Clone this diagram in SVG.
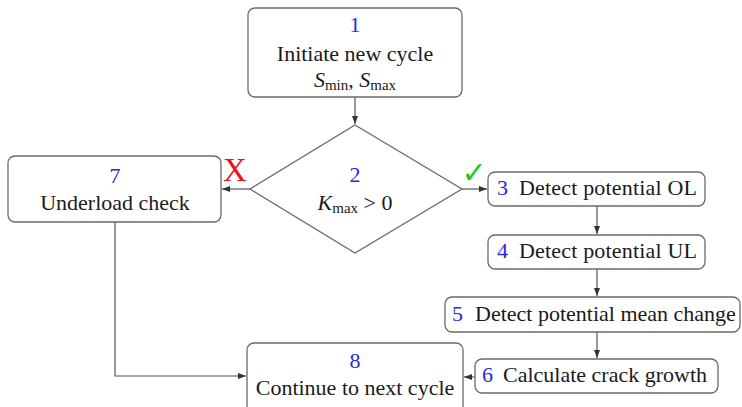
<svg xmlns="http://www.w3.org/2000/svg" width="742" height="407" viewBox="0 0 742 407">
<style>
.box{fill:#fff;stroke:#6a6a6a;stroke-width:1.3}
.t{font-family:"Liberation Serif","Times New Roman",serif;font-size:22px;fill:#1a1a1a}
.n{font-family:"Liberation Serif","Times New Roman",serif;font-size:22px;fill:#2828e0}
.sub{font-size:15px}
.c{fill:none;stroke:#555;stroke-width:1.2}
</style>
<defs>
<marker id="ah" viewBox="0 0 8 6" refX="8" refY="3" markerWidth="8" markerHeight="6" markerUnits="userSpaceOnUse" orient="auto">
<path d="M0,0 L8,3 L0,6 Z" fill="#333"/>
</marker>
</defs>
<rect width="742" height="407" fill="#fff"/>
<g id="connectors">
<path class="c" d="M355,97 V124" marker-end="url(#ah)"/>
<path class="c" d="M250,189 H222" marker-end="url(#ah)"/>
<path class="c" d="M462,189 H487" marker-end="url(#ah)"/>
<path class="c" d="M597,206 V234" marker-end="url(#ah)"/>
<path class="c" d="M597,269 V296" marker-end="url(#ah)"/>
<path class="c" d="M597,332 V358" marker-end="url(#ah)"/>
<path class="c" d="M475,377 H464" marker-end="url(#ah)"/>
<path class="c" d="M115,222 V376 H246" marker-end="url(#ah)"/>
</g>
<g id="node1">
<rect class="box" x="248" y="8" width="214" height="89" rx="7"/>
<text class="n" x="355" y="32" text-anchor="middle">1</text>
<text class="t" x="355" y="61" text-anchor="middle">Initiate new cycle</text>
<text class="t" x="355" y="87" text-anchor="middle"><tspan font-style="italic">S</tspan><tspan class="sub" dy="3">min</tspan><tspan dy="-3">, </tspan><tspan font-style="italic">S</tspan><tspan class="sub" dy="3">max</tspan></text>
</g>
<g id="node2">
<polygon class="box" points="355,125 462,189 355,253 250,189"/>
<text class="n" x="355" y="182" text-anchor="middle">2</text>
<text class="t" x="355" y="210" text-anchor="middle"><tspan font-style="italic">K</tspan><tspan class="sub" dy="3">max</tspan><tspan dy="-3"> &gt; 0</tspan></text>
</g>
<g id="node7">
<rect class="box" x="8" y="156" width="213" height="66" rx="7"/>
<text class="n" x="115" y="183" text-anchor="middle">7</text>
<text class="t" x="115" y="210" text-anchor="middle">Underload check</text>
</g>
<g id="node3">
<rect class="box" x="488" y="172" width="217" height="34" rx="7"/>
<text class="n" x="497" y="195">3</text>
<text class="t" x="519" y="195" textLength="178">Detect potential OL</text>
</g>
<g id="node4">
<rect class="box" x="488" y="235" width="217" height="34" rx="7"/>
<text class="n" x="497" y="258">4</text>
<text class="t" x="519" y="258" textLength="178">Detect potential UL</text>
</g>
<g id="node5">
<rect class="box" x="445" y="297" width="295" height="35" rx="7"/>
<text class="n" x="452" y="321">5</text>
<text class="t" x="475" y="321">Detect potential mean change</text>
</g>
<g id="node6">
<rect class="box" x="475" y="359" width="243" height="34" rx="7"/>
<text class="n" x="482" y="382">6</text>
<text class="t" x="503" y="382">Calculate crack growth</text>
</g>
<g id="node8">
<rect class="box" x="247" y="343" width="216" height="72" rx="7"/>
<text class="n" x="355" y="368" text-anchor="middle">8</text>
<text class="t" x="355" y="395" text-anchor="middle">Continue to next cycle</text>
</g>
<g id="labels">
<text x="235" y="181" text-anchor="middle" font-family="Liberation Serif, serif" font-size="33" fill="#e8161b">X</text>
<text x="474" y="183" text-anchor="middle" font-family="DejaVu Sans, sans-serif" font-size="30" fill="#22cc22">✓</text>
</g>
</svg>
